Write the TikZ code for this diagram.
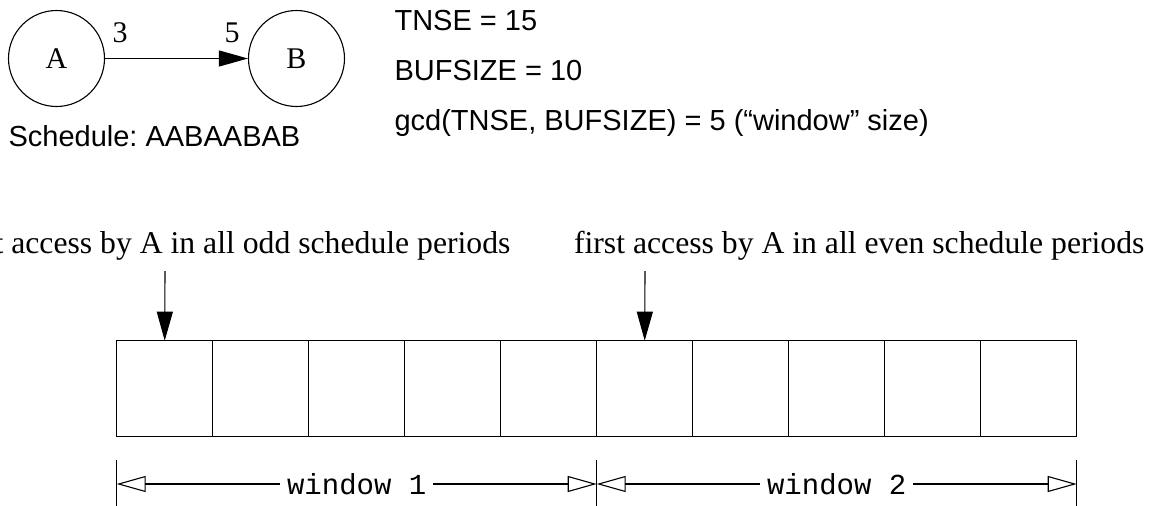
\documentclass[tikz,border=0pt]{standalone}
\usepackage{fontspec}
\setmainfont{Liberation Serif}
\setsansfont{Liberation Sans}
\setmonofont{Liberation Mono}
\usetikzlibrary{arrows.meta,calc}
\frenchspacing

\begin{document}
\begin{tikzpicture}[x=1pt, y=-1pt, line width=1.1pt,
  state/.style={draw, circle, minimum size=96pt, inner sep=0pt,
    font=\fontsize{30}{34}\selectfont},
  ratelbl/.style={inner sep=0pt, anchor=base, font=\fontsize{30}{34}\selectfont},
  sanstxt/.style={inner sep=0pt, anchor=base west,
    font=\sffamily\fontsize{29}{34}\selectfont},
  serifnote/.style={inner sep=0pt, font=\fontsize{31.7}{36}\selectfont},
  cell/.style={draw, rectangle, minimum width=96pt, minimum height=96pt,
    inner sep=0pt, outer sep=0pt},
  solidhead/.style={-{Triangle[length=29pt, width=16pt]}},
  dimline/.style={{Triangle[open, length=29pt, width=16pt]}-{Triangle[open, length=29pt, width=16pt]}},
  dimlbl/.style={fill=white, inner xsep=7pt, inner ysep=2pt, anchor=base,
    font=\ttfamily\fontsize{29}{34}\selectfont}]

\useasboundingbox (0,0) rectangle (1154,506);
\clip (0,0) rectangle (1154,506);

% two-actor graph with its rates
\node[state] (A) at (56.5,58.5) {A};
\node[state] (B) at (296.5,58.5) {B};
\draw[solidhead] (A) -- (B);
\node[ratelbl] (prod) at (120,42) {3};
\node[ratelbl] (cons) at (232,42) {5};
\node[sanstxt] (sched) at (8,146) {Schedule: AABAABAB};

% parameters
\node[sanstxt] (tnse) at (394,30) {TNSE = 15};
\node[sanstxt] (bufsize) at (394,80) {BUFSIZE = 10};
\node[sanstxt] (gcd) at (394,130) {gcd(TNSE, BUFSIZE) = 5 (“window” size)};

% buffer of ten slots
\foreach \i in {1,...,10} {
  \node[cell] (c\i) at ({116.7+96*(\i-0.5)},388.7) {};
}

% first-access annotations
\node[serifnote, anchor=base east] (odd) at (511,253)
  {first access by A in all odd schedule periods};
\node[serifnote, anchor=base west] (even) at (573.5,253)
  {first access by A in all even schedule periods};
\coordinate (oddtop) at (165,271);
\coordinate (eventop) at (645,271);
\draw[solidhead] (oddtop) -- (c1.north);
\draw[solidhead] (eventop) -- (c6.north);

% window dimension lines
\coordinate (t0) at (c1.south west |- 0,460);
\coordinate (t1) at (c6.south west |- 0,460);
\coordinate (t2) at (c10.south east |- 0,460);
\foreach \t in {t0,t1,t2} {
  \draw (\t) -- ++(0,50);
}
\coordinate (d0) at (t0 |- 0,484);
\coordinate (d1) at (t1 |- 0,484);
\coordinate (d2) at (t2 |- 0,484);
\draw[dimline] (d0) -- (d1);
\draw[dimline] (d1) -- (d2);
\node[dimlbl] (w1) at ($ (d0)!0.5!(d1) + (0,10) $) {window 1};
\node[dimlbl] (w2) at ($ (d1)!0.5!(d2) + (0,10) $) {window 2};
\end{tikzpicture}
\end{document}
